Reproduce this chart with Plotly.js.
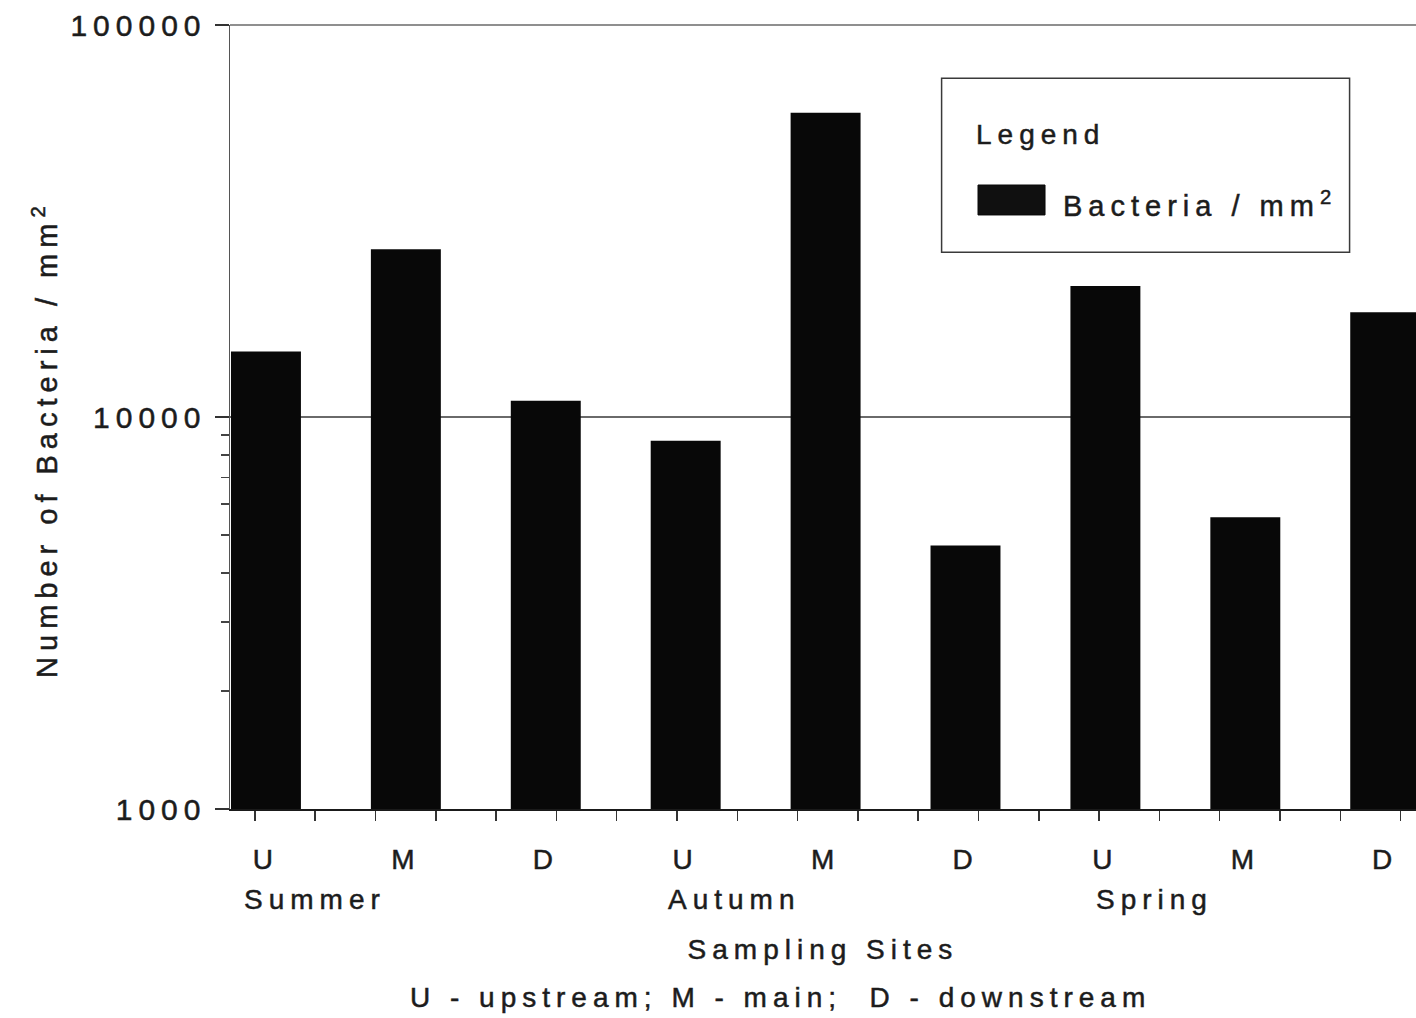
<!DOCTYPE html>
<html>
<head>
<meta charset="utf-8">
<script src="https://cdn.plot.ly/plotly-3.0.1.min.js"></script>
<style>
  html, body { margin: 0; padding: 0; background: #ffffff; }
  #chart { width: 1416px; height: 1018px; }
  svg text { letter-spacing: 6px; stroke: #1c1c1c; stroke-width: 0.5px; }
</style>
</head>
<body>
<div id="chart"></div>
<script>
// ---- Data ----
const sites = ['U', 'M', 'D', 'U', 'M', 'D', 'U', 'M', 'D'];
const seasons = ['Summer', 'Autumn', 'Spring'];
const seasonOfSite = ['Summer', 'Summer', 'Summer', 'Autumn', 'Autumn', 'Autumn', 'Spring', 'Spring', 'Spring'];
const bacteriaPerMm2 = [14700, 26800, 11000, 8700, 59700, 4700, 21600, 5550, 18500];
const yTickVals = [1000, 10000, 100000];
const yTickText = ['1000', '10000', '100000'];
const seriesName = 'Bacteria / mm<sup>2</sup>';
const legendTitle = 'Legend';
const xTitle = 'Sampling Sites';
const yTitle = 'Number of Bacteria / mm<sup>2</sup>';
const footnote = 'U - upstream; M - main;  D - downstream';

// ---- Build chart ----
const xIdx = sites.map((_, i) => i);
const FONT = "'Liberation Sans', Arial, Helvetica, sans-serif";
const INK = '#1c1c1c';
const txt = (size) => ({ family: FONT, size: size, color: INK });

const trace = {
  type: 'bar',
  x: xIdx,
  y: bacteriaPerMm2,
  width: 0.5,
  name: seriesName,
  marker: { color: '#080808', line: { width: 0 } },
  hoverinfo: 'x+y'
};

const annotations = seasons.map(s => {
  const first = seasonOfSite.indexOf(s);
  return {
    text: s, x: first + 0.35, xref: 'x', y: -0.116, yref: 'paper',
    xanchor: 'center', yanchor: 'middle', showarrow: false, font: txt(28)
  };
});
annotations.push({
  text: footnote, x: 0.464, xref: 'paper', y: -0.241, yref: 'paper',
  xanchor: 'center', yanchor: 'middle', showarrow: false, font: txt(28)
});
// y-axis title
annotations.push({
  text: yTitle, textangle: -90, x: -0.156, xref: 'paper', y: 0.472, yref: 'paper',
  xanchor: 'center', yanchor: 'middle', showarrow: false, font: txt(29)
});
// manual legend
annotations.push({
  text: legendTitle, x: 0.627, xref: 'paper', y: 0.860, yref: 'paper',
  xanchor: 'left', yanchor: 'middle', showarrow: false, font: txt(28)
});
annotations.push({
  text: seriesName, x: 0.7005, xref: 'paper', y: 0.772, yref: 'paper',
  xanchor: 'left', yanchor: 'middle', showarrow: false, font: txt(29)
});

const shapes = [
  { type: 'line', xref: 'paper', yref: 'paper', x0: 0, x1: 1, y0: 1, y1: 1,
    line: { color: '#6a6a6a', width: 1.5 }, layer: 'below' },
  { type: 'rect', xref: 'paper', yref: 'paper', x0: 0.600, x1: 0.944, y0: 0.710, y1: 0.932,
    line: { color: '#3a3a3a', width: 1.5 }, fillcolor: '#ffffff', layer: 'above' },
  { type: 'rect', xref: 'paper', yref: 'paper', x0: 0.6307, x1: 0.6872, y0: 0.7577, y1: 0.7959,
    line: { color: '#080808', width: 1 }, fillcolor: '#101010', layer: 'above' }
];

const layout = {
  width: 1416,
  height: 1018,
  paper_bgcolor: '#ffffff',
  plot_bgcolor: '#ffffff',
  margin: { l: 230, r: 0, t: 25, b: 209, pad: 0 },
  showlegend: false,
  font: txt(28),
  xaxis: {
    range: [-0.257, 8.22],
    tickmode: 'array',
    tickvals: xIdx,
    ticktext: sites,
    ticks: '',
    ticklabelstandoff: 24,
    tickfont: txt(28),
    showgrid: false,
    zeroline: false,
    showline: true,
    linecolor: '#1a1a1a',
    linewidth: 2,
    minor: { ticks: 'outside', tick0: -0.079, dtick: 0.431, ticklen: 10, tickwidth: 1.5, tickcolor: '#333333', showgrid: false },
    title: { text: xTitle, standoff: 66, font: txt(28) },
    automargin: false,
    fixedrange: true
  },
  yaxis: {
    type: 'log',
    range: [3, 5],
    tickmode: 'array',
    tickvals: yTickVals,
    ticktext: yTickText,
    ticks: 'outside',
    ticklen: 14,
    tickwidth: 1.5,
    tickcolor: '#333333',
    ticklabelstandoff: 2,
    tickfont: txt(30),
    showgrid: true,
    gridcolor: '#6a6a6a',
    gridwidth: 1.5,
    zeroline: false,
    showline: true,
    linecolor: '#555555',
    linewidth: 1.5,
    minor: { ticks: 'outside', tickvals: [2000, 3000, 4000, 5000, 6000, 7000, 8000, 9000], ticklen: 8, tickwidth: 1.5, tickcolor: '#444444', showgrid: false },
    automargin: false,
    fixedrange: true
  },
  annotations: annotations,
  shapes: shapes,
  bargap: 0.5
};

Plotly.newPlot('chart', [trace], layout, { displayModeBar: false, staticPlot: true });
</script>
</body>
</html>
